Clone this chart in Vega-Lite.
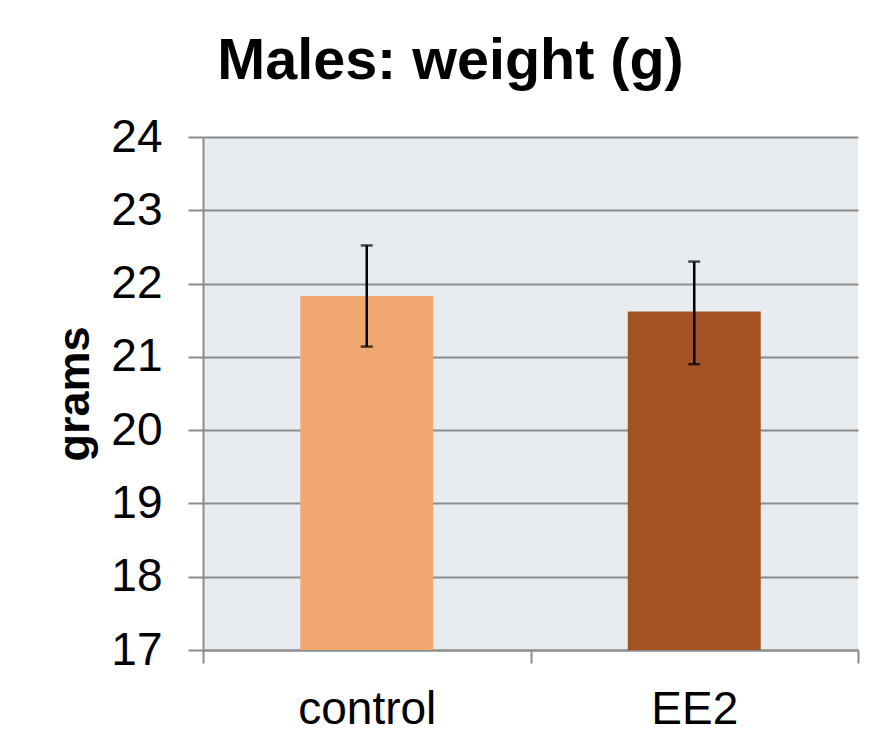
{
  "$schema": "https://vega.github.io/schema/vega-lite/v6.json",
  "width": 655,
  "height": 513,
  "autosize": {"type": "none"},
  "padding": {"left": 203, "top": 137, "right": 12, "bottom": 97},
  "background": "white",
  "title": {
    "text": "Males: weight (g)",
    "font": "Liberation Sans",
    "fontSize": 57.5,
    "fontWeight": "bold",
    "color": "black",
    "anchor": "middle",
    "frame": "group",
    "dx": -80,
    "baseline": "alphabetic",
    "offset": -22
  },
  "config": {
    "view": {"fill": "#E7ECF1", "stroke": null},
    "font": "Liberation Sans"
  },
  "data": {
    "values": [
      {"group": "control", "mean": 21.83, "lower": 21.14, "upper": 22.52},
      {"group": "EE2", "mean": 21.62, "lower": 20.90, "upper": 22.30}
    ]
  },
  "encoding": {
    "x": {
      "field": "group",
      "type": "nominal",
      "sort": ["control", "EE2"],
      "scale": {"paddingInner": 0, "paddingOuter": 0},
      "axis": {
        "title": null,
        "labelAngle": 0,
        "labelFontSize": 46,
        "labelColor": "black",
        "labelBaseline": "alphabetic",
        "labelPadding": 60,
        "tickSize": 13,
        "tickWidth": 2,
        "tickColor": "#8c8c8c",
        "tickBand": "extent",
        "domainColor": "#8c8c8c",
        "domainWidth": 2
      }
    }
  },
  "layer": [
    {
      "mark": {"type": "bar", "width": {"band": 0.406}, "clip": true},
      "encoding": {
        "y": {
          "field": "mean",
          "type": "quantitative",
          "scale": {"domain": [17, 24], "nice": false, "zero": false},
          "axis": {
            "title": "grams",
            "titleFontSize": 45,
            "titleFontWeight": "bold",
            "titleColor": "black",
            "titlePadding": 13,
            "values": [17, 18, 19, 20, 21, 22, 23, 24],
            "format": "d",
            "labelFontSize": 46,
            "labelColor": "black",
            "labelPadding": 26,
            "tickSize": 15,
            "tickWidth": 2,
            "tickColor": "#8c8c8c",
            "domainColor": "#8c8c8c",
            "domainWidth": 2,
            "grid": true,
            "gridColor": "#8c8c8c",
            "gridWidth": 2
          }
        },
        "color": {
          "field": "group",
          "type": "nominal",
          "scale": {"domain": ["control", "EE2"], "range": ["#F0A870", "#A35224"]},
          "legend": null
        }
      }
    },
    {
      "mark": {"type": "rule", "color": "black", "strokeWidth": 2.5},
      "encoding": {
        "y": {"field": "lower", "type": "quantitative"},
        "y2": {"field": "upper"}
      }
    },
    {
      "mark": {"type": "tick", "color": "black", "thickness": 2.5, "size": 12},
      "encoding": {"y": {"field": "lower", "type": "quantitative"}}
    },
    {
      "mark": {"type": "tick", "color": "black", "thickness": 2.5, "size": 12},
      "encoding": {"y": {"field": "upper", "type": "quantitative"}}
    }
  ]
}
